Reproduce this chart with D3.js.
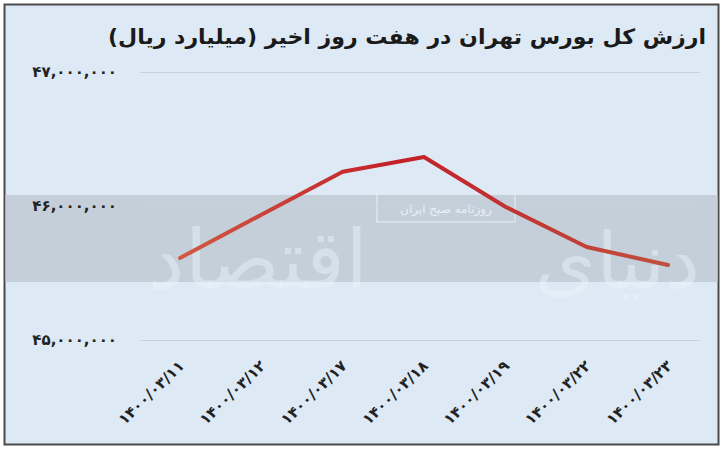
<!DOCTYPE html>
<html><head><meta charset="utf-8">
<script src="https://cdn.jsdelivr.net/npm/d3@7"></script>
<style>body{margin:0;background:#fff}svg{display:block}</style>
</head><body>
<script>
const dates = ["۱۴۰۰/۰۳/۱۱","۱۴۰۰/۰۳/۱۲","۱۴۰۰/۰۳/۱۷","۱۴۰۰/۰۳/۱۸","۱۴۰۰/۰۳/۱۹","۱۴۰۰/۰۳/۲۲","۱۴۰۰/۰۳/۲۳"];
const values = [45612000, 45935000, 46255000, 46366000, 45995000, 45694000, 45560000];
const yTicks = [45000000, 46000000, 47000000];
const yTickLabels = ["۴۵,۰۰۰,۰۰۰","۴۶,۰۰۰,۰۰۰","۴۷,۰۰۰,۰۰۰"];
const title = "ارزش کل بورس تهران در هفت روز اخیر (میلیارد ریال)";

const W = 724, H = 451;
const svg = d3.select("body").append("svg").attr("width", W).attr("height", H);
const font = "'DejaVu Sans', sans-serif";

svg.append("rect").attr("x",4.5).attr("y",4.5).attr("width",714).attr("height",440)
  .attr("fill","#dde9f4").attr("stroke","#4a4a4a").attr("stroke-width",2);

const x = d3.scalePoint().domain(dates).range([180, 668]);
const y = d3.scaleLinear().domain([45000000, 47000000]).range([340, 72]);

// gray band
svg.append("rect").attr("x",5.5).attr("y",195).attr("width",712).attr("height",87).attr("fill","#c4cfd9");

// watermark, split around the small box
function fitText(txt, right, width, base) {
  const t = svg.append("text").attr("x",right).attr("y",base).attr("text-anchor","start").attr("direction","rtl")
    .attr("font-family",font).attr("font-size",100)
    .attr("fill","#eef4fa").attr("fill-opacity",0.45).text(txt);
  const w = t.node().getComputedTextLength();
  t.attr("font-size", 100*width/w);
  return t;
}
fitText("دنیای", 700, 165, 288);
fitText("اقتصاد", 368, 220, 288);
svg.append("rect").attr("x",377).attr("y",193).attr("width",138).attr("height",29)
  .attr("fill","none").attr("stroke","#e4ecf3").attr("stroke-width",1.2);
svg.append("text").attr("x",446).attr("y",213).attr("text-anchor","middle")
  .attr("font-family",font).attr("font-size",12).attr("fill","#e8eff6").text("روزنامه صبح ایران");

// gridlines
svg.append("g").selectAll("line").data(yTicks).join("line")
  .attr("x1",140).attr("x2",700).attr("y1",d=>y(d)+0.5).attr("y2",d=>y(d)+0.5)
  .attr("stroke","#c4d3e0").attr("stroke-width",1);

// y labels
svg.append("g").selectAll("text").data(yTicks).join("text")
  .attr("x",117).attr("y",d=>y(d)+5).attr("text-anchor","end").attr("direction","ltr")
  .attr("font-family",font).attr("font-size",15).attr("font-weight","bold").attr("fill","#222")
  .text((d,i)=>yTickLabels[i]);

// x labels
svg.append("g").selectAll("text").data(dates).join("text")
  .attr("transform",d=>`translate(${x(d)+5},${367}) rotate(-44)`)
  .attr("text-anchor","end").attr("direction","ltr")
  .attr("font-family",font).attr("font-size",15).attr("font-weight","bold").attr("fill","#222")
  .text(d=>d);

// line gradient
const defs = svg.append("defs");
const g = defs.append("linearGradient").attr("id","lg").attr("gradientUnits","userSpaceOnUse")
  .attr("x1",180).attr("x2",668).attr("y1",0).attr("y2",0);
g.append("stop").attr("offset","0%").attr("stop-color","#cf5a42");
g.append("stop").attr("offset","45%").attr("stop-color","#c41f28");
g.append("stop").attr("offset","100%").attr("stop-color","#c0503e");

const line = d3.line().x((d,i)=>x(dates[i])).y(d=>y(d));
svg.append("path").datum(values).attr("d",line).attr("fill","none")
  .attr("stroke","url(#lg)").attr("stroke-width",4).attr("stroke-linecap","round").attr("stroke-linejoin","round");

// title
svg.append("text").attr("x",706).attr("y",44).attr("text-anchor","start").attr("direction","rtl")
  .attr("font-family",font).attr("font-size",21).attr("font-weight","bold").attr("fill","#1a1a1a")
  .attr("textLength",598).attr("lengthAdjust","spacingAndGlyphs")
  .text(title);
</script>
</body></html>
